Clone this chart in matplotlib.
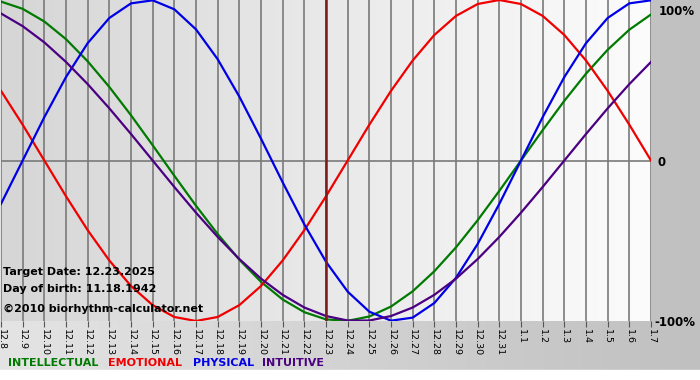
import numpy as np
import matplotlib.pyplot as plt
from matplotlib.colors import LinearSegmentedColormap

# Days shown on the chart (target date 12.23 in the middle)
days = ['12.8', '12.9', '12.10', '12.11', '12.12', '12.13', '12.14', '12.15',
        '12.16', '12.17', '12.18', '12.19', '12.20', '12.21', '12.22', '12.23',
        '12.24', '12.25', '12.26', '12.27', '12.28', '12.29', '12.30', '12.31',
        '1.1', '1.2', '1.3', '1.4', '1.5', '1.6', '1.7']
target_index = 15

# Cycle values per day (-1 .. 1)
intellectual = [0.99, 0.945, 0.866, 0.756, 0.618, 0.458, 0.282, 0.095,
                -0.095, -0.282, -0.458, -0.618, -0.756, -0.866, -0.945, -0.99,
                -0.999, -0.972, -0.91, -0.815, -0.69, -0.541, -0.372, -0.189,
                0.0, 0.189, 0.372, 0.541, 0.69, 0.815, 0.91]
emotional = [0.434, 0.223, 0.0, -0.223, -0.434, -0.623, -0.782, -0.901,
             -0.975, -1.0, -0.975, -0.901, -0.782, -0.623, -0.434, -0.223,
             0.0, 0.223, 0.434, 0.623, 0.782, 0.901, 0.975, 1.0,
             0.975, 0.901, 0.782, 0.623, 0.434, 0.223, 0.0]
physical = [-0.27, 0.0, 0.27, 0.52, 0.731, 0.888, 0.979, 0.998,
            0.942, 0.817, 0.631, 0.398, 0.136, -0.136, -0.398, -0.631,
            -0.817, -0.942, -0.998, -0.979, -0.888, -0.731, -0.52, -0.27,
            0.0, 0.27, 0.52, 0.731, 0.888, 0.979, 0.998]
intuitive = [0.916, 0.837, 0.736, 0.614, 0.476, 0.325, 0.165, 0.0,
             -0.165, -0.325, -0.476, -0.614, -0.736, -0.837, -0.916, -0.969,
             -0.997, -0.997, -0.969, -0.916, -0.837, -0.736, -0.614, -0.476,
             -0.325, -0.165, 0.0, 0.165, 0.325, 0.476, 0.614]

series = [('INTELLECTUAL', intellectual, '#007a00'),
          ('EMOTIONAL', emotional, '#f00000'),
          ('PHYSICAL', physical, '#0000e6'),
          ('INTUITIVE', intuitive, '#4b0082')]

W, H = 700, 380
fig = plt.figure(figsize=(W / 100, H / 100), dpi=100)

# Outer gray gradient background
bg = fig.add_axes([0, 0, 1, 1])
bg_cmap = LinearSegmentedColormap.from_list('bg', ['#e4e4e4', '#c0c0c0'])
bg.imshow(np.linspace(0, 1, 256).reshape(1, -1), cmap=bg_cmap, aspect='auto',
          extent=[0, W, 0, H])
bg.fill_between([0, W], 0, 10, color='white')
bg.set_xlim(0, W)
bg.set_ylim(0, H)
bg.axis('off')

# Chart area
x = np.arange(len(days))
ax = fig.add_axes([1 / W, 59 / H, 650 / W, 321 / H])
plot_cmap = LinearSegmentedColormap.from_list('plot', ['#d6d6d6', '#fcfcfc'])
ax.imshow(np.linspace(0, 1, 256).reshape(1, -1), cmap=plot_cmap, aspect='auto',
          extent=[0, len(days) - 1, -1, 1], zorder=0)
ax.set_xlim(0, len(days) - 1)
ax.set_ylim(-1, 1)

for xi in x:
    ax.axvline(xi, color='#7a7a7a', lw=1.2, zorder=1)
ax.axhline(0, color='#7a7a7a', lw=1.2, zorder=1)

for name, vals, color in series:
    ax.plot(x, vals, color=color, lw=1.6, zorder=3, clip_on=True)

ax.axvline(target_index, color='#7a1c1c', lw=1.8, zorder=4)

ax.set_xticks(x)
ax.set_xticklabels(days, rotation=270, fontsize=6.8)
ax.tick_params(axis='x', length=4, color='#555555', pad=2)
ax.set_yticks([])
for s in ax.spines.values():
    s.set_visible(False)

# Right side percent labels
fig.text(659 / W, 1 - 15 / H, '100%', fontsize=8.5, fontweight='bold')
fig.text(658 / W, 1 - 166 / H, '0', fontsize=8.5, fontweight='bold')
fig.text(654 / W, 1 - 326 / H, '-100%', fontsize=8.5, fontweight='bold')

# Info texts
fig.text(3 / W, 1 - 275 / H, 'Target Date: 12.23.2025', fontsize=8, fontweight='bold')
fig.text(3 / W, 1 - 292 / H, 'Day of birth: 11.18.1942', fontsize=8, fontweight='bold')
fig.text(3 / W, 1 - 312 / H, '\u00a92010 biorhythm-calculator.net', fontsize=8, fontweight='bold')

# Legend
leg_x = [8, 108, 193, 262]
for (name, vals, color), lx in zip(series, leg_x):
    fig.text(lx / W, 1 - 366 / H, name, fontsize=8, fontweight='bold', color=color)

fig.savefig('out.png', dpi=100)
